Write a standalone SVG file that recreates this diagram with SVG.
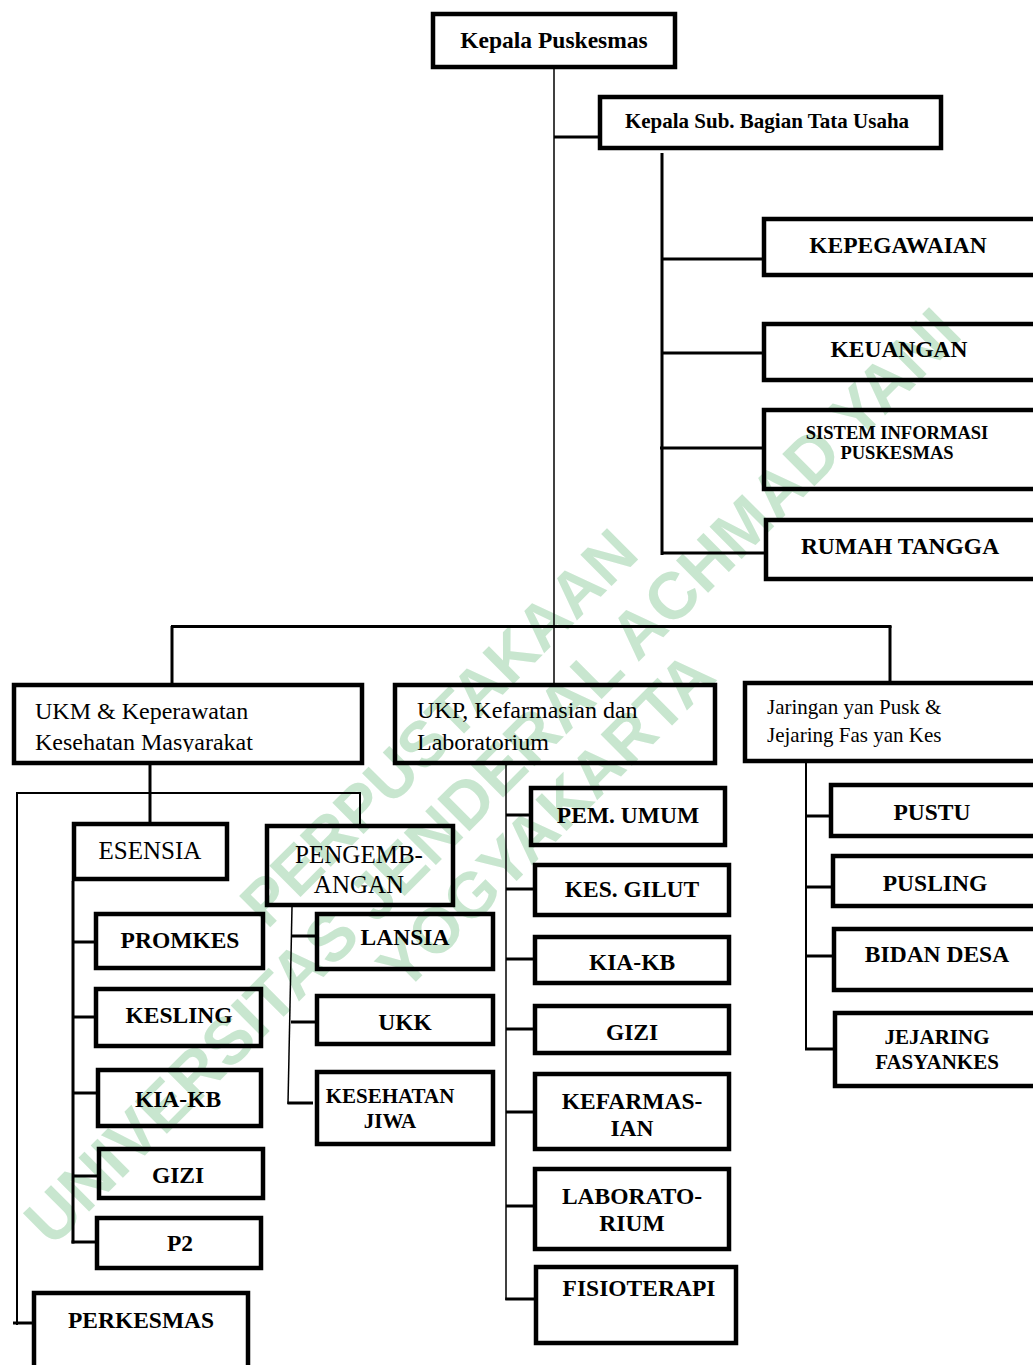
<svg xmlns="http://www.w3.org/2000/svg" width="1033" height="1365" viewBox="0 0 1033 1365">
<defs>
<style>
.bx{fill:none;stroke:#000;stroke-width:4.5}
.c{stroke:#000;stroke-width:3;fill:none}
.t{stroke:#000;stroke-width:1.5;fill:none}
.m{stroke:#000;stroke-width:2;fill:none}
.b{font-family:"Liberation Serif","Times New Roman",serif;font-weight:bold;font-size:23.5px;fill:#000;text-anchor:middle}
.r{font-family:"Liberation Serif","Times New Roman",serif;font-size:24px;fill:#000}
.wm{font-family:"Liberation Sans",Arial,sans-serif;font-weight:bold;font-size:64px;fill:#c8e6cf;text-anchor:middle}
</style>
<clipPath id="ukmclip"><rect x="14" y="685" width="348" height="67"/></clipPath>
</defs>
<rect width="1033" height="1365" fill="#fff"/>
<g id="watermark">
<text class="wm" transform="translate(438,727) rotate(-45)" y="23">PERPUSTAKAAN</text>
<text class="wm" transform="translate(492,776) rotate(-45)" y="23" style="font-size:66px">UNIVERSITAS JENDERAL ACHMAD YANI</text>
<text class="wm" transform="translate(545,820) rotate(-45)" y="23">YOGYAKARTA</text>
</g>
<g id="connectors">
<line class="t" x1="554" y1="69" x2="554" y2="684"/>
<line class="c" x1="554" y1="137" x2="599" y2="137"/>
<line class="c" x1="662" y1="153" x2="662" y2="555"/>
<line class="c" x1="662" y1="259" x2="763" y2="259"/>
<line class="c" x1="662" y1="353" x2="763" y2="353"/>
<line class="c" x1="660" y1="448" x2="763" y2="448"/>
<line class="c" x1="662" y1="553" x2="765" y2="553"/>
<line class="c" x1="171" y1="626.5" x2="891.5" y2="626.5"/>
<line class="c" x1="172" y1="626" x2="172" y2="684"/>
<line class="c" x1="890" y1="626" x2="890" y2="682"/>
<line class="c" x1="150" y1="765" x2="150" y2="823"/>
<polyline class="m" points="17,1325 17,793 360,793 360,825"/>
<line class="c" x1="13" y1="1323" x2="36" y2="1323"/>
<line class="c" x1="73" y1="881" x2="73" y2="1243.5"/>
<line class="c" x1="73" y1="942" x2="96" y2="942"/>
<line class="c" x1="73" y1="1017" x2="96" y2="1017"/>
<line class="c" x1="73" y1="1093" x2="98" y2="1093"/>
<line class="c" x1="73" y1="1176" x2="99" y2="1176"/>
<line class="c" x1="71.5" y1="1242" x2="97" y2="1242"/>
<line class="t" x1="292" y1="907" x2="288" y2="1104"/>
<line class="c" x1="292" y1="936" x2="317" y2="936"/>
<line class="c" x1="291" y1="1022" x2="317" y2="1022"/>
<line class="c" x1="287.5" y1="1103" x2="313" y2="1103"/>
<line class="t" x1="506" y1="765" x2="506" y2="1300"/>
<line class="c" x1="506" y1="815" x2="531" y2="815"/>
<line class="c" x1="506" y1="889" x2="535" y2="889"/>
<line class="c" x1="506" y1="959" x2="535" y2="959"/>
<line class="c" x1="506" y1="1029" x2="535" y2="1029"/>
<line class="c" x1="506" y1="1112" x2="535" y2="1112"/>
<line class="c" x1="506" y1="1206" x2="535" y2="1206"/>
<line class="c" x1="505.3" y1="1299" x2="536" y2="1299"/>
<line class="m" x1="806" y1="763" x2="806" y2="1050"/>
<line class="c" x1="806" y1="816" x2="831" y2="816"/>
<line class="c" x1="806" y1="887" x2="833" y2="887"/>
<line class="c" x1="806" y1="956" x2="834" y2="956"/>
<line class="c" x1="805" y1="1049" x2="835" y2="1049"/>
</g>
<g id="kepala-puskesmas"><rect class="bx" x="433" y="14" width="242" height="53"/><text class="b" x="554" y="48">Kepala Puskesmas</text></g>
<g id="kepala-sub"><rect class="bx" x="600" y="97" width="341" height="51"/><text class="b" x="767" y="128" style="font-size:21px">Kepala Sub. Bagian Tata Usaha</text></g>
<g id="kepegawaian"><rect class="bx" x="764" y="219" width="300" height="56"/><text class="b" x="898" y="253">KEPEGAWAIAN</text></g>
<g id="keuangan"><rect class="bx" x="764" y="324" width="300" height="56"/><text class="b" x="899" y="357">KEUANGAN</text></g>
<g id="sistem-informasi"><rect class="bx" x="764" y="410" width="300" height="79"/><text class="b" x="897" y="439" style="font-size:18.5px">SISTEM INFORMASI</text><text class="b" x="897" y="459" style="font-size:18.5px">PUSKESMAS</text></g>
<g id="rumah-tangga"><rect class="bx" x="766" y="520" width="300" height="59"/><text class="b" x="900" y="554">RUMAH TANGGA</text></g>
<g id="ukm"><rect class="bx" x="14" y="685" width="348" height="78"/><g clip-path="url(#ukmclip)"><text class="r" x="35" y="719">UKM &amp; Keperawatan</text><text class="r" x="35" y="750">Kesehatan Masyarakat</text></g></g>
<g id="ukp"><rect class="bx" x="395" y="685" width="320" height="78"/><text class="r" x="417" y="718">UKP, Kefarmasian dan</text><text class="r" x="417" y="750">Laboratorium</text></g>
<g id="jaringan"><rect class="bx" x="745" y="683" width="300" height="78"/><text class="r" x="767" y="714" style="font-size:21px">Jaringan yan Pusk &amp;</text><text class="r" x="767" y="742" style="font-size:21px">Jejaring Fas yan Kes</text></g>
<g id="esensia"><rect class="bx" x="74" y="824" width="153" height="55"/><text class="r" x="150" y="859" style="font-size:25px;text-anchor:middle">ESENSIA</text></g>
<g id="pengembangan"><rect class="bx" x="267" y="826" width="186" height="79"/><text class="r" x="359" y="863" style="font-size:25px;text-anchor:middle">PENGEMB-</text><text class="r" x="359" y="893" style="font-size:25px;text-anchor:middle">ANGAN</text></g>
<g id="promkes"><rect class="bx" x="96" y="914" width="167" height="54"/><text class="b" x="180" y="948">PROMKES</text></g>
<g id="kesling"><rect class="bx" x="96" y="989" width="165" height="57"/><text class="b" x="179" y="1023">KESLING</text></g>
<g id="kia-kb-ukm"><rect class="bx" x="98" y="1070" width="163" height="56"/><text class="b" x="178" y="1107">KIA-KB</text></g>
<g id="gizi-ukm"><rect class="bx" x="99" y="1149" width="164" height="49"/><text class="b" x="178" y="1183">GIZI</text></g>
<g id="p2"><rect class="bx" x="97" y="1218" width="164" height="50"/><text class="b" x="180" y="1251">P2</text></g>
<g id="lansia"><rect class="bx" x="317" y="914" width="176" height="55"/><text class="b" x="405" y="945">LANSIA</text></g>
<g id="ukk"><rect class="bx" x="317" y="996" width="176" height="48"/><text class="b" x="405" y="1030">UKK</text></g>
<g id="kesehatan-jiwa"><rect class="bx" x="317" y="1072" width="176" height="72"/><text class="b" x="390" y="1103" style="font-size:21px">KESEHATAN</text><text class="b" x="390" y="1128" style="font-size:21px">JIWA</text></g>
<g id="perkesmas"><rect class="bx" x="34" y="1293" width="214" height="80"/><text class="b" x="141" y="1328">PERKESMAS</text></g>
<g id="pem-umum"><rect class="bx" x="531" y="788" width="194" height="57"/><text class="b" x="628" y="823">PEM. UMUM</text></g>
<g id="kes-gilut"><rect class="bx" x="535" y="865" width="194" height="50"/><text class="b" x="632" y="897">KES. GILUT</text></g>
<g id="kia-kb-ukp"><rect class="bx" x="535" y="937" width="194" height="46"/><text class="b" x="632" y="970">KIA-KB</text></g>
<g id="gizi-ukp"><rect class="bx" x="535" y="1006" width="194" height="47"/><text class="b" x="632" y="1040">GIZI</text></g>
<g id="kefarmasian"><rect class="bx" x="535" y="1074" width="194" height="75"/><text class="b" x="632" y="1109">KEFARMAS-</text><text class="b" x="632" y="1136">IAN</text></g>
<g id="laboratorium"><rect class="bx" x="535" y="1169" width="194" height="80"/><text class="b" x="632" y="1204">LABORATO-</text><text class="b" x="632" y="1231">RIUM</text></g>
<g id="fisioterapi"><rect class="bx" x="536" y="1267" width="200" height="76"/><text class="b" x="639" y="1296">FISIOTERAPI</text></g>
<g id="pustu"><rect class="bx" x="831" y="785" width="250" height="51"/><text class="b" x="932" y="820">PUSTU</text></g>
<g id="pusling"><rect class="bx" x="833" y="856" width="250" height="50"/><text class="b" x="935" y="891">PUSLING</text></g>
<g id="bidan-desa"><rect class="bx" x="834" y="929" width="250" height="61"/><text class="b" x="937" y="962">BIDAN DESA</text></g>
<g id="jejaring"><rect class="bx" x="835" y="1013" width="250" height="73"/><text class="b" x="937" y="1044" style="font-size:21px">JEJARING</text><text class="b" x="937" y="1069" style="font-size:21px">FASYANKES</text></g>
</svg>
